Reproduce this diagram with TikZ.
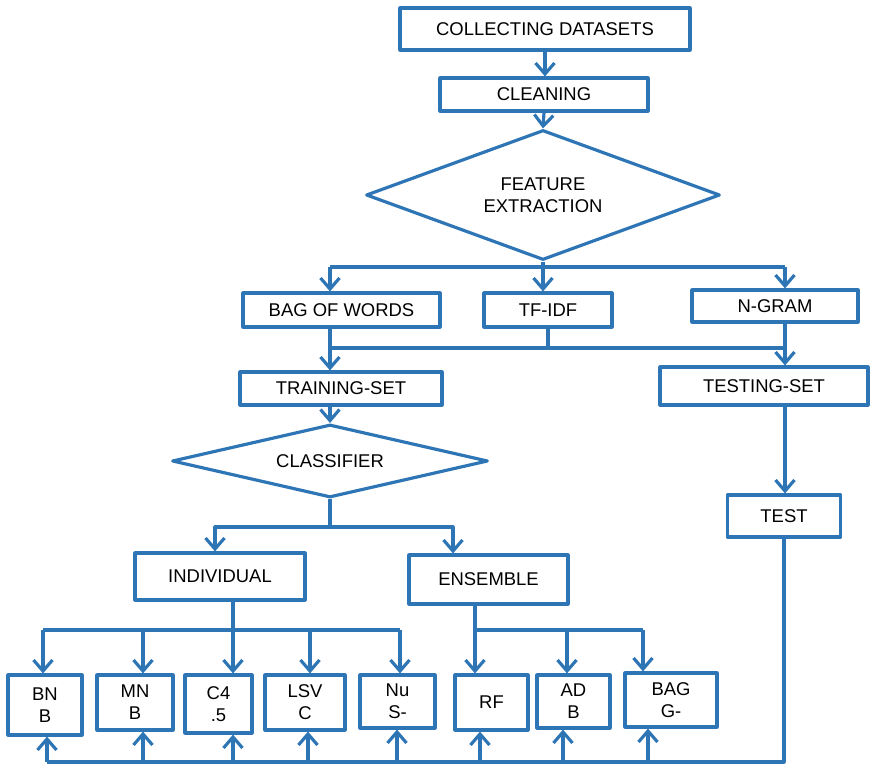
\documentclass[tikz,border=0pt]{standalone}
\usepackage{fontspec}
\setmainfont{Liberation Sans}
\usetikzlibrary{shapes.geometric,arrows.meta}
\definecolor{flowblue}{RGB}{46,117,182}
\begin{document}
\begin{tikzpicture}[x=0.02cm,y=-0.02cm,line width=1.8pt,color=flowblue,line join=round,
  box/.style={draw=flowblue,fill=white,text=black,inner sep=0pt,align=center,font=\fontsize{10.5}{12.5}\selectfont},
  choice/.style={box,diamond},
  arr/.style={-{Straight Barb[length=2.2mm,width=3.8mm]}}]
\useasboundingbox (0,0) rectangle (873,766);
\node[box,minimum width=5.8cm,minimum height=0.84cm] (collect) at (545,29) {COLLECTING DATASETS};
\node[box,minimum width=4.16cm,minimum height=0.66cm] (clean) at (544,94.5) {CLEANING};
\node[choice,aspect=2.72,minimum width=7.08cm,minimum height=2.6cm] (feat) at (543,195) {FEATURE\\EXTRACTION};
\node[box,minimum width=3.94cm,minimum height=0.68cm] (bow) at (341.5,310) {BAG OF WORDS};
\node[box,minimum width=2.56cm,minimum height=0.68cm] (tfidf) at (548,310) {TF-IDF};
\node[box,minimum width=3.32cm,minimum height=0.64cm] (ngram) at (775,306) {N-GRAM};
\node[box,minimum width=4.04cm,minimum height=0.66cm] (train) at (341,388.5) {TRAINING-SET};
\node[box,minimum width=4.16cm,minimum height=0.76cm] (tset) at (764,386) {TESTING-SET};
\node[choice,aspect=4.33,minimum width=6.32cm,minimum height=1.46cm] (cls) at (330,461) {CLASSIFIER};
\node[box,minimum width=2.26cm,minimum height=0.84cm] (test) at (784,516) {TEST};
\node[box,minimum width=3.4cm,minimum height=0.94cm] (ind) at (220,576.5) {INDIVIDUAL};
\node[box,minimum width=3.18cm,minimum height=0.98cm] (ens) at (488.5,579.5) {ENSEMBLE};
\foreach \n/\cx/\cy/\w/\h/\t in {bnb/45/705/1.48/1.2/{BN\\B},mnb/135/702.5/1.52/1.1/{MN\\B},
  c45/218.5/704/1.34/1.16/{C4\\.5},lsvc/305/702.5/1.6/1.1/{LSV\\C},nus/397.5/701.5/1.5/1.06/{Nu\\S-},
  rf/491.5/702.5/1.46/1.1/RF,adb/573.5/701.5/1.46/1.06/{AD\\B},bagg/671/700/1.84/1.08/{BAG\\G-}}
  \node[box,minimum width=\w cm,minimum height=\h cm] (\n) at (\cx,\cy) {\t};
\coordinate (fs) at (543,267);
\coordinate (fl) at (330,267);
\coordinate (fr) at (785,267);
\coordinate (ml) at (330,348);
\coordinate (mr) at (785,348);
\coordinate (cs) at (330,527);
\draw[arr] (collect.south) -- (collect.south |- clean.north);
\draw[arr] (clean.south) -- (feat.north);
\draw (feat.south) -- (fs);
\draw (fl) -- (fr);
\draw[arr] (fl) -- (fl |- bow.north);
\draw[arr] (fs) -- (fs |- tfidf.north);
\draw[arr] (fr) -- (fr |- ngram.north);
\draw (tfidf.south) -- (tfidf.south |- ml);
\draw (ml) -- (mr);
\draw[arr] (ml |- bow.south) -- (ml |- train.north);
\draw[arr] (mr |- ngram.south) -- (mr |- tset.north);
\draw[arr] (ml |- train.south) -- (cls.north);
\draw[arr] (mr |- tset.south) -- (mr |- test.north);
\draw (cls.south) -- (cs);
\draw[arr] (cs) -| ([xshift=-0.1cm]ind.north);
\draw[arr] (cs) -| ([xshift=-0.71cm]ens.north);
\foreach \n/\a/\b in {bnb/43/47,mnb/143/143,c45/233/233,lsvc/310/308,nus/400/397,rf/475/480,adb/567/563,bagg/643/648}{
  \coordinate (t\n) at (\a,630);
  \coordinate (b\n) at (\b,762);
  \draw[arr] (t\n) -- (t\n |- \n.north);
  \draw[arr] (b\n) -- (b\n |- \n.south);
}
\draw (tc45 |- ind.south) -- (tc45);
\draw (tbnb) -- (tnus);
\draw (trf |- ens.south) -- (trf) -- (tbagg);
\draw (test.south) |- (bbnb);
\end{tikzpicture}
\end{document}
